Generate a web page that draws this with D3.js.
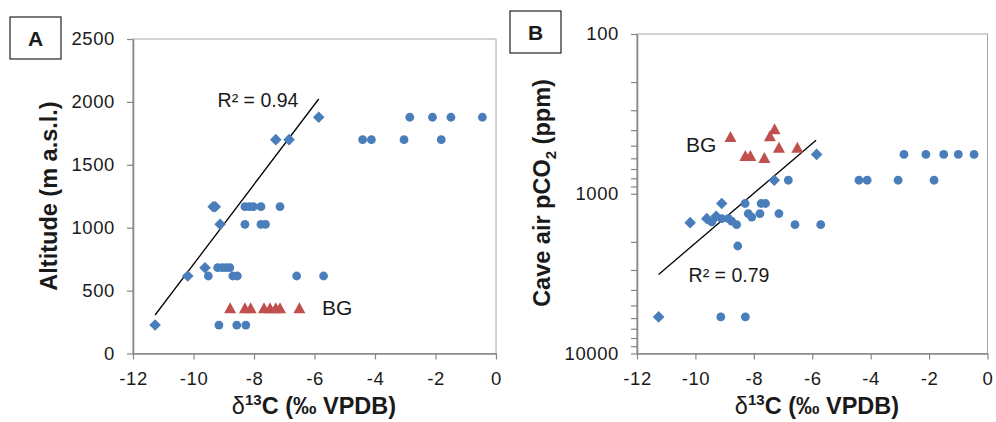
<!DOCTYPE html>
<html><head><meta charset="utf-8">
<script src="https://cdn.jsdelivr.net/npm/d3@7"></script>
<style>body{margin:0;background:#fff}svg{display:block}text{font-family:"Liberation Sans",Arial,sans-serif;fill:#1a1a1a}</style>
</head><body>
<script>
// ---------- Panel A data (δ13C vs altitude) ----------
const aDiamondX = [-11.27, -10.19, -9.62, -9.35, -9.28, -9.12, -7.28, -6.84, -5.86];
const aDiamondY = [226, 616, 682, 1167, 1167, 1027, 1700, 1700, 1878];
const aCircleX = [-9.51, -8.70, -8.55, -6.59, -5.70,
                  -9.20, -9.05, -8.92, -8.80,
                  -8.30, -7.77, -7.62,
                  -8.30, -8.15, -8.02, -7.77, -7.14,
                  -4.41, -4.12, -3.04, -1.81,
                  -2.85, -2.10, -1.49, -0.45,
                  -9.16, -8.57, -8.27];
const aCircleY = [616, 616, 616, 616, 616,
                  682, 682, 682, 682,
                  1027, 1027, 1027,
                  1167, 1167, 1167, 1167, 1167,
                  1700, 1700, 1700, 1700,
                  1878, 1878, 1878, 1878,
                  226, 226, 226];
const aTriX = [-8.79, -8.30, -8.11, -7.67, -7.47, -7.28, -7.14, -6.50];
const aTriY = [359, 359, 359, 359, 359, 359, 359, 359];
const aTrendX = [-11.27, -5.86];
const aTrendY = [306, 2023];
const aYTicks = [0, 500, 1000, 1500, 2000, 2500];

// ---------- Panel B data (δ13C vs cave air pCO2) ----------
const bDiamondX = [-11.26, -10.18, -9.61, -9.29, -9.10, -7.30, -5.85];
const bDiamondY = [5900, 1517, 1432, 1383, 1151, 823, 567];
const bCircleX = [-9.44, -9.10, -8.87, -8.76, -8.59, -8.30, -7.75, -7.60, -8.19, -8.07, -7.79, -7.14, -6.59, -5.71,
                  -8.55, -9.13, -8.29, -6.82, -4.40, -4.12, -3.06, -1.83, -2.86, -2.11, -1.50, -1.00, -0.46];
const bCircleY = [1500, 1432, 1432, 1483, 1561, 1151, 1151, 1151, 1330, 1400, 1330, 1330, 1561, 1561,
                  2124, 5900, 5900, 823, 823, 823, 823, 823, 567, 567, 567, 567, 567];
const bTriX = [-8.80, -8.29, -8.12, -7.64, -7.45, -7.29, -7.14, -6.51];
const bTriY = [441, 580, 580, 597, 436, 394, 516, 516];
const bTrendX = [-11.26, -5.87];
const bTrendY = [3200, 462];
const bYMajor = [100, 1000, 10000];

const xTicks = [-12, -10, -8, -6, -4, -2, 0];

const BLUE = "#4a7ebb", RED = "#c0504d", AX = "#878787";
const TICKFONT = 18.5;

const svg = d3.select("body").append("svg").attr("width", 996).attr("height", 422);
svg.append("rect").attr("width", 996).attr("height", 422).attr("fill", "#fff");

function panel(opt) {
  const g = svg.append("g");
  const x = d3.scaleLinear().domain([-12, 0]).range([opt.left, opt.right]);
  const y = opt.y;
  // frame
  g.append("rect").attr("x", opt.left).attr("y", opt.top)
    .attr("width", opt.right - opt.left).attr("height", opt.bottom - opt.top)
    .attr("fill", "none").attr("stroke", "#a6a6a6").attr("stroke-width", 1);
  // axes
  const xa = g.append("g").attr("transform", `translate(0,${opt.bottom})`)
    .call(d3.axisBottom(x).tickValues(xTicks).tickSize(6).tickSizeOuter(0).tickPadding(12).tickFormat(d => d === 0 ? "0" : "-" + Math.abs(d)));
  const ya = g.append("g").attr("transform", `translate(${opt.left},0)`).call(opt.yAxis);
  [xa, ya].forEach(a => {
    a.select(".domain").attr("stroke", AX).attr("stroke-width", 1.6);
    a.selectAll(".tick line").attr("stroke", AX).attr("stroke-width", 1.2);
    a.selectAll(".tick text").attr("font-size", TICKFONT).attr("fill", "#1a1a1a")
      .style("letter-spacing", "0.6px")
      .style("font-family", '"Liberation Sans",Arial,sans-serif');
  });
  // trendline
  g.append("line").attr("x1", x(opt.trendX[0])).attr("y1", y(opt.trendY[0]))
    .attr("x2", x(opt.trendX[1])).attr("y2", y(opt.trendY[1]))
    .attr("stroke", "#000").attr("stroke-width", 1.3);
  // circles
  g.selectAll(".c").data(d3.range(opt.cx.length)).enter().append("circle")
    .attr("cx", i => x(opt.cx[i])).attr("cy", i => y(opt.cy[i])).attr("r", 4.4).attr("fill", BLUE);
  // diamonds
  g.selectAll(".d").data(d3.range(opt.dx.length)).enter().append("path")
    .attr("d", "M0,-5.8 L5.8,0 L0,5.8 L-5.8,0 Z")
    .attr("transform", i => `translate(${x(opt.dx[i])},${y(opt.dy[i])})`)
    .attr("fill", BLUE);
  // triangles
  g.selectAll(".t").data(d3.range(opt.tx.length)).enter().append("path")
    .attr("d", "M0,-6 L6,5 L-6,5 Z")
    .attr("transform", i => `translate(${x(opt.tx[i])},${y(opt.ty[i])})`)
    .attr("fill", RED);
  // x title
  const xt = g.append("text").attr("x", opt.xTitleX).attr("y", 413.5).attr("text-anchor", "middle")
    .attr("font-size", 23.5).attr("font-weight", "bold");
  xt.append("tspan").attr("font-weight", "normal").text("δ");
  xt.append("tspan").attr("font-size", 15).attr("dy", -9).text("13");
  xt.append("tspan").attr("dy", 9).text("C (‰ VPDB)");
  // panel label box
  g.append("rect").attr("x", opt.box[0]).attr("y", opt.box[1]).attr("width", 51).attr("height", 42)
    .attr("fill", "#fff").attr("stroke", "#222").attr("stroke-width", 1.2);
  g.append("text").attr("x", opt.box[0] + 25.5).attr("y", opt.box[1] + 29).attr("text-anchor", "middle")
    .attr("font-size", 21).attr("font-weight", "bold").text(opt.label);
  return {g, x, y};
}

// Panel A
const yA = d3.scaleLinear().domain([0, 2500]).range([353.5, 39]);
const A = panel({
  left: 133, right: 496, top: 39, bottom: 353.5, y: yA,
  yAxis: d3.axisLeft(yA).tickValues(aYTicks).tickSize(6).tickSizeOuter(0).tickPadding(12).tickFormat(d3.format("d")),
  trendX: aTrendX, trendY: aTrendY,
  cx: aCircleX, cy: aCircleY, dx: aDiamondX, dy: aDiamondY, tx: aTriX, ty: aTriY,
  xTitleX: 314, box: [10, 17], label: "A"
});
A.g.append("text").attr("transform", "translate(57,196) rotate(-90)").attr("text-anchor", "middle")
  .attr("font-size", 23.5).attr("font-weight", "bold").text("Altitude (m a.s.l.)");
A.g.append("text").attr("x", 258).attr("y", 107).attr("text-anchor", "middle").attr("font-size", 19.5).text("R² = 0.94");
A.g.append("text").attr("x", 322).attr("y", 315).attr("font-size", 21).text("BG");

// Panel B
const yB = d3.scaleLog().domain([100, 10000]).range([34, 353.5]);
const bMinor = [];
bYMajor.forEach((m, k) => { if (k < bYMajor.length - 1) for (let j = 1; j < 10; j++) bMinor.push(m * j); });
bMinor.push(bYMajor[bYMajor.length - 1]);
const B = panel({
  left: 637, right: 987.5, top: 34, bottom: 353.5, y: yB,
  yAxis: d3.axisLeft(yB).tickValues(bMinor).tickSize(6).tickSizeOuter(0).tickPadding(12)
    .tickFormat(d => bYMajor.includes(d) ? String(d) : ""),
  trendX: bTrendX, trendY: bTrendY,
  cx: bCircleX, cy: bCircleY, dx: bDiamondX, dy: bDiamondY, tx: bTriX, ty: bTriY,
  xTitleX: 817, box: [510, 11], label: "B"
});
const bt = B.g.append("text").attr("transform", "translate(550,193) rotate(-90)").attr("text-anchor", "middle")
  .attr("font-size", 23.5).attr("font-weight", "bold");
bt.append("tspan").text("Cave air pCO");
bt.append("tspan").attr("font-size", 15).attr("dy", 6).text("2");
bt.append("tspan").attr("dy", -6).text(" (ppm)");
B.g.append("text").attr("x", 729).attr("y", 282).attr("text-anchor", "middle").attr("font-size", 19.5).text("R² = 0.79");
B.g.append("text").attr("x", 686).attr("y", 152).attr("font-size", 21).text("BG");
</script>
</body></html>
